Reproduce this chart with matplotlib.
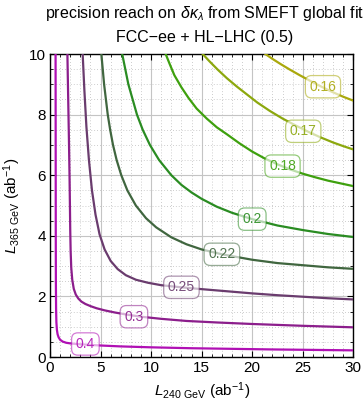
import matplotlib
matplotlib.use('Agg')
import matplotlib.pyplot as plt
from matplotlib.ticker import MultipleLocator

plt.rcParams['font.family'] = ['Liberation Sans', 'DejaVu Sans']
plt.rcParams['mathtext.fontset'] = 'custom'
plt.rcParams['mathtext.rm'] = 'Liberation Sans'
plt.rcParams['mathtext.it'] = 'Liberation Sans:italic'

# contour levels and their colours
levels = ['0.4', '0.3', '0.25', '0.22', '0.2', '0.18', '0.17', '0.16']
colors = ['#b010b4', '#8c1e8c', '#6a3c6e', '#40663f', '#2a8c22', '#3ea00e', '#8ca80e', '#aaa80c']

# contour lines: L240 (x) and L365 (y) in ab^-1
x_04 = [0.55, 0.56, 0.57, 0.58, 0.6, 0.63, 0.68, 0.75, 0.85, 1.0, 1.25, 1.6, 2.0, 2.6, 3.5,
        5.0, 7.0, 10.0, 14.0, 18.0, 22.0, 26.0, 30.0]
y_04 = [10.0, 7.0, 4.0, 2.5, 1.6, 1.15, 0.9, 0.75, 0.65, 0.57, 0.51, 0.47, 0.45, 0.43, 0.41,
        0.38, 0.35, 0.32, 0.29, 0.27, 0.25, 0.235, 0.22]

x_03 = [1.72, 1.8, 1.87, 1.93, 1.97, 2.0, 2.04, 2.1, 2.2, 2.35, 2.55, 2.8, 3.1, 3.5, 4.0, 4.6,
        5.4, 6.4, 7.6, 9.0, 11.0, 13.5, 16.5, 20.0, 25.0, 30.0]
y_03 = [10.0, 8.5, 7.2, 6.0, 5.0, 4.2, 3.5, 2.95, 2.55, 2.25, 2.06, 1.93, 1.83, 1.75, 1.68, 1.61,
        1.54, 1.47, 1.4, 1.33, 1.26, 1.19, 1.14, 1.09, 1.03, 0.98]

x_025 = [3.23, 3.4, 3.6, 3.85, 4.15, 4.5, 4.9, 5.4, 6.0, 6.7, 7.5, 8.5, 9.7, 11.0, 13.0, 15.0,
         17.5, 20.0, 22.5, 25.0, 27.5, 30.0]
y_025 = [10.0, 8.8, 7.6, 6.5, 5.5, 4.7, 4.05, 3.55, 3.17, 2.9, 2.7, 2.55, 2.45, 2.37, 2.3, 2.24,
         2.17, 2.1, 2.04, 1.99, 1.94, 1.9]

x_022 = [5.08, 5.35, 5.71, 5.95, 6.23, 6.59, 7.05, 7.65, 8.49, 9.5, 10.5, 12.0, 13.5, 15.0, 17.0,
         20.0, 22.5, 25.0, 27.5, 30.0]
y_022 = [10.0, 9.0, 8.0, 7.5, 7.0, 6.5, 6.0, 5.5, 5.0, 4.58, 4.28, 3.95, 3.72, 3.55, 3.39,
         3.21, 3.1, 3.03, 2.96, 2.91]

x_020 = [7.14, 7.75, 8.6, 9.17, 9.88, 10.79, 12.0, 13.0, 14.0, 15.0, 16.5, 18.0, 20.0, 22.5,
         25.0, 27.5, 30.0]
y_020 = [10.0, 9.0, 8.0, 7.5, 7.0, 6.5, 6.0, 5.68, 5.43, 5.22, 4.96, 4.76, 4.55, 4.34,
         4.19, 4.06, 3.96]

x_018 = [11.44, 11.8, 12.3, 13.0, 13.7, 14.5, 15.5, 16.5, 17.5, 18.75, 20.0, 21.25, 22.5, 23.75,
         25.0, 26.25, 27.5, 28.75, 30.0]
y_018 = [10.0, 9.7, 9.3, 8.9, 8.55, 8.2, 7.87, 7.58, 7.35, 7.05, 6.78, 6.55, 6.36, 6.19,
         6.05, 5.93, 5.82, 5.73, 5.64]

x_017 = [15.1, 15.8, 16.6, 17.5, 18.5, 19.5, 20.5, 21.75, 23.0, 24.25, 25.5, 26.75, 28.0, 29.0, 30.0]
y_017 = [10.0, 9.75, 9.48, 9.2, 8.92, 8.66, 8.4, 8.12, 7.87, 7.65, 7.44, 7.25, 7.08, 6.96, 6.85]

x_016 = [21.3, 22.0, 22.8, 23.7, 24.7, 25.7, 26.8, 27.9, 29.0, 30.0]
y_016 = [10.0, 9.84, 9.67, 9.49, 9.3, 9.12, 8.93, 8.75, 8.59, 8.46]

curves_x = [x_04, x_03, x_025, x_022, x_020, x_018, x_017, x_016]
curves_y = [y_04, y_03, y_025, y_022, y_020, y_018, y_017, y_016]

# where the contour labels sit
label_x = [3.5, 8.3, 13.0, 17.0, 20.0, 23.0, 25.05, 27.0]
label_y = [0.43, 1.33, 2.3, 3.39, 4.55, 6.3, 7.45, 8.92]

fig = plt.figure(figsize=(3.64, 4.03), dpi=100)
ax = fig.add_axes([0.1374, 0.1141, 0.8332, 0.7519])

for cx, cy, col in zip(curves_x, curves_y, colors):
    ax.plot(cx, cy, color=col, lw=1.6, solid_joinstyle='round', zorder=3)

for lx, ly, lev, col in zip(label_x, label_y, levels, colors):
    ax.text(lx, ly, lev, color=col, alpha=0.9, fontsize=10, ha='center', va='center', zorder=5,
            bbox=dict(boxstyle='round,pad=0.3,rounding_size=0.45', facecolor=(1, 1, 1, 0.65),
                      edgecolor=matplotlib.colors.to_rgba(col, 0.55), linewidth=0.9))

ax.set_xlim(0, 30)
ax.set_ylim(0, 10)
ax.xaxis.set_major_locator(MultipleLocator(5))
ax.xaxis.set_minor_locator(MultipleLocator(1))
ax.yaxis.set_major_locator(MultipleLocator(2))
ax.yaxis.set_minor_locator(MultipleLocator(0.5))

ax.grid(which='major', color='#c4c4c4', linestyle='-', linewidth=0.8, zorder=0)
ax.grid(which='minor', color='#bdbdbd', linestyle=(0, (1, 2.5)), linewidth=0.6, zorder=0)
ax.set_axisbelow(True)

ax.tick_params(which='both', direction='in', top=True, right=True, labelsize=11)
ax.tick_params(which='major', length=4, width=0.8, pad=3)
ax.tick_params(which='minor', length=2.5, width=0.6)
for sp in ax.spines.values():
    sp.set_linewidth(1.0)

ax.set_xlabel(r'$L_{240\ \mathrm{GeV}}$ (ab$^{-1}$)', fontsize=11, labelpad=4)
ax.set_ylabel(r'$L_{365\ \mathrm{GeV}}$ (ab$^{-1}$)', fontsize=11, labelpad=4)

fig.text(0.563, 0.967, r'precision reach on $\delta\kappa_\lambda$ from SMEFT global fit',
         ha='center', va='center', fontsize=11.5)
fig.text(0.563, 0.908, 'FCC\u2212ee + HL\u2212LHC (0.5)', ha='center', va='center', fontsize=11.5)

fig.savefig('out.png', dpi=100)
